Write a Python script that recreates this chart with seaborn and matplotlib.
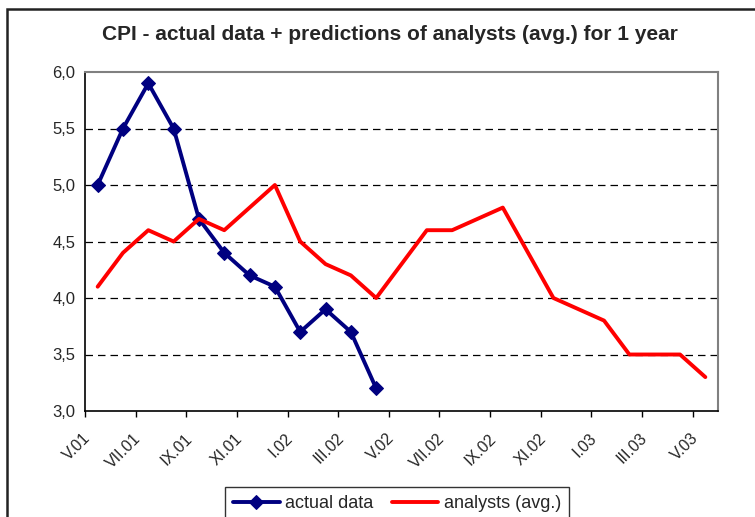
import numpy as np, pandas as pd, matplotlib
matplotlib.use('Agg')
import matplotlib.pyplot as plt
from matplotlib.patches import Rectangle
import seaborn as sns

# data (monthly, V.01 .. V.03)
months = ['V.01', 'VI.01', 'VII.01', 'VIII.01', 'IX.01', 'X.01', 'XI.01', 'XII.01',
          'I.02', 'II.02', 'III.02', 'IV.02', 'V.02', 'VI.02', 'VII.02', 'VIII.02',
          'IX.02', 'X.02', 'XI.02', 'XII.02', 'I.03', 'II.03', 'III.03', 'IV.03', 'V.03']
actual = [5.0, 5.5, 5.9, 5.5, 4.7, 4.4, 4.2, 4.1, 3.7, 3.9, 3.7, 3.2]
analysts = [4.1, 4.4, 4.6, 4.5, 4.7, 4.6, 4.8, 5.0, 4.5, 4.3, 4.2, 4.0, 4.3,
            4.6, 4.6, 4.7, 4.8, 4.4, 4.0, 3.9, 3.8, 3.5, 3.5, 3.5, 3.3]
yticks = [3.0, 3.5, 4.0, 4.5, 5.0, 5.5, 6.0]

df_act = pd.DataFrame({'x': np.arange(len(actual)), 'y': actual})
df_ana = pd.DataFrame({'x': np.arange(len(analysts)), 'y': analysts})

sns.set_style('white')
plt.rcParams['font.family'] = ['Liberation Sans', 'DejaVu Sans']

fig = plt.figure(figsize=(7.55, 5.17), dpi=100)
ax = fig.add_axes([85/755, 1-411/517, (718-85)/755, (411-72)/517])

# outer chart border (cropped screenshot)
fig.patches.append(Rectangle((7/755, -0.1), 1.1, 1.1 - 9/517, transform=fig.transFigure,
                             fill=False, edgecolor='#222222', linewidth=1.8))

sns.lineplot(data=df_act, x='x', y='y', ax=ax, color='#000080', linewidth=2.8,
             marker='D', markersize=7, markeredgecolor='#000080', label='actual data')
sns.lineplot(data=df_ana, x='x', y='y', ax=ax, color='#FF0000', linewidth=2.8,
             label='analysts (avg.)')

ax.set_xlim(-0.5, len(months) - 0.5)
ax.set_ylim(3.0, 6.0)
ax.set_yticks(yticks)
ax.set_yticklabels([f'{v:.1f}'.replace('.', ',') for v in yticks], fontsize=12)

# tick marks on category boundaries (minor), labels just right of them (major)
ax.set_xticks(np.arange(0, len(months), 2) - 0.5, minor=True)
ax.set_xticks(np.arange(0, len(months), 2) - 0.38)
ax.set_xticklabels(months[::2], rotation=45, ha='right', va='center',
                   rotation_mode='anchor', fontsize=11.5)
ax.tick_params(axis='x', which='major', length=0, pad=18)
ax.tick_params(axis='x', which='minor', direction='out', length=4, width=1,
               color='black', bottom=True)
ax.tick_params(axis='y', direction='out', length=4, width=1, color='black', pad=3)
ax.set_xlabel('')
ax.set_ylabel('')

for v in yticks[1:-1]:
    ax.axhline(v, color='black', linewidth=0.9, linestyle=(0, (6, 4)), zorder=0)

for s in ['top', 'right']:
    ax.spines[s].set_color('#808080')
    ax.spines[s].set_linewidth(1.5)
for s in ['left', 'bottom']:
    ax.spines[s].set_color('black')
    ax.spines[s].set_linewidth(1.2)

fig.text(390/755, 1-35/517, 'CPI - actual data + predictions of analysts (avg.) for 1 year',
         ha='center', va='center', fontsize=15, fontweight='bold')

ax.get_legend().remove()
h, l = ax.get_legend_handles_labels()
leg = fig.legend(h, l, loc='upper center', bbox_to_anchor=(397/755, 1-487/517), ncol=2,
                 frameon=True, fancybox=False, fontsize=13, handlelength=2.6,
                 handletextpad=0.3, columnspacing=1.0, borderpad=0.45, borderaxespad=0)
leg.get_frame().set_edgecolor('black')
leg.get_frame().set_linewidth(1.0)

fig.savefig('out.png', dpi=100)
